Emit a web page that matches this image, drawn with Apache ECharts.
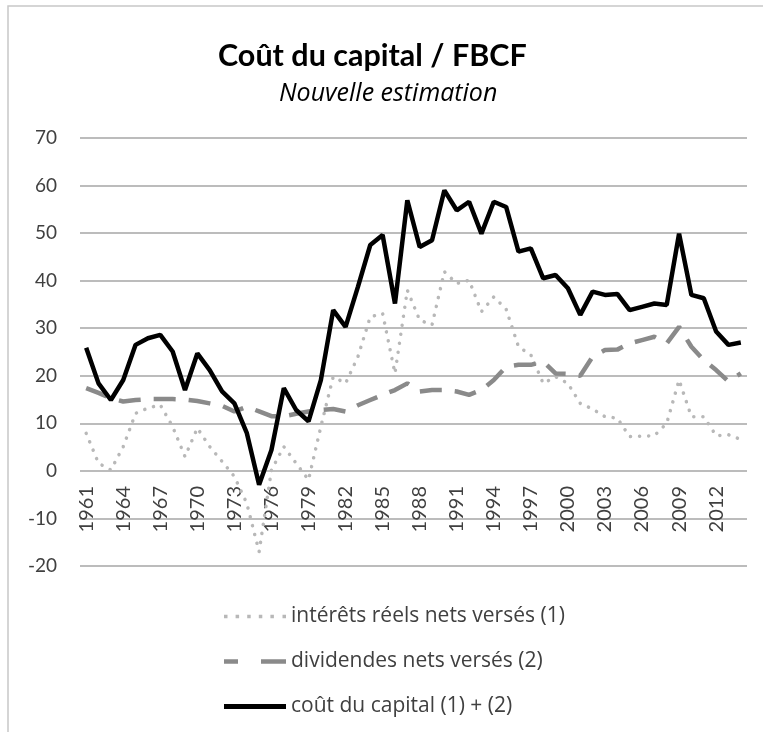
<!DOCTYPE html>
<html>
<head>
<meta charset="utf-8">
<script src="https://cdn.jsdelivr.net/npm/echarts@6/dist/echarts.min.js"></script>
<style>
  html, body { margin: 0; padding: 0; background: #fff; }
  #chart { width: 763px; height: 732px; }
</style>
</head>
<body>
<div id="chart"></div>
<script>
// années 1961 -> 2014
const years = [];
for (let y = 1961; y <= 2014; y++) years.push(String(y));

// intérêts réels nets versés (1)
const interets = [
  7.9, 1.6, 0.2, 5.1, 12.1, 13.2, 13.9, 9.3, 3.0, 9.0,
  5.1, 2.0, -1.2, -6.8, -17.0, 0.2, 5.1, 1.6, -1.9, 9.3,
  19.8, 18.4, 24.0, 32.4, 33.1, 20.5, 38.0, 31.7, 30.7, 41.9,
  39.4, 40.1, 33.5, 36.6, 34.0, 26.1, 24.4, 18.4, 19.8, 18.4,
  14.2, 13.0, 11.4, 11.1, 7.2, 7.3, 7.4, 10.0, 19.1, 11.4,
  11.4, 7.4, 7.6, 6.6
];

// dividendes nets versés (2)
const dividendes = [
  17.4, 16.4, 15.3, 14.6, 14.9, 15.1, 15.1, 15.1, 15.0, 14.7,
  14.2, 13.7, 12.5, 13.5, 12.5, 11.5, 11.5, 12.0, 12.5, 12.8,
  13.0, 12.5, 13.8, 14.9, 16.0, 17.0, 18.4, 16.7, 17.0, 17.0,
  16.7, 16.0, 17.0, 19.1, 21.9, 22.3, 22.3, 23.0, 20.5, 20.4,
  20.0, 24.0, 25.4, 25.5, 26.8, 27.5, 28.2, 26.8, 30.3, 26.1,
  23.3, 21.2, 18.8, 20.5
];

// coût du capital (1) + (2)
const cout = [
  25.9, 18.4, 14.9, 19.1, 26.5, 27.9, 28.6, 25.1, 17.0, 24.7,
  21.2, 16.7, 14.2, 8.0, -2.9, 4.4, 17.4, 12.8, 10.4, 19.1,
  33.8, 30.3, 38.7, 47.5, 49.6, 35.2, 56.9, 47.1, 48.5, 59.0,
  54.8, 56.6, 49.9, 56.6, 55.5, 46.1, 46.8, 40.5, 41.2, 38.4,
  32.8, 37.7, 37.0, 37.2, 33.8, 34.5, 35.2, 34.9, 49.9, 37.0,
  36.3, 29.3, 26.5, 27.0
];

const names = ['intérêts réels nets versés (1)', 'dividendes nets versés (2)', 'coût du capital (1) + (2)'];

// icônes de légende (pointillés, tirets, trait plein)
const iconDots = 'path://M0,0h3.5v3.5h-3.5z M11.6,0h3.5v3.5h-3.5z M23.2,0h3.5v3.5h-3.5z M34.8,0h3.5v3.5h-3.5z M46.4,0h3.5v3.5h-3.5z M58.5,0h3.5v3.5h-3.5z';
const iconDash = 'path://M0,0h14v4.5h-14z M37,0h25v4.5h-25z';
const iconLine = 'path://M0,0h62v5h-62z';

const font = 'Lato, "Open Sans", sans-serif';
const chart = echarts.init(document.getElementById('chart'));

chart.setOption({
  backgroundColor: '#fff',
  animation: false,
  title: [
    {
      text: 'Coût du capital / FBCF',
      left: 213,
      top: 36,
      textStyle: { fontFamily: font, fontSize: 30.5, fontWeight: 'bold', color: '#000' }
    },
    {
      text: 'Nouvelle estimation',
      left: 274,
      top: 76,
      textStyle: { fontFamily: '"Open Sans", sans-serif', fontSize: 25, fontStyle: 'italic', fontWeight: 'normal', color: '#000' }
    }
  ],
  graphic: [{
    type: 'rect',
    shape: { x: 8, y: 6, width: 800, height: 800 },
    style: { fill: 'none', stroke: '#c8c8c8', lineWidth: 1.5 },
    silent: true
  }],
  legend: {
    orient: 'vertical',
    left: 219,
    top: 601,
    itemWidth: 62,
    itemHeight: 5,
    itemGap: 24,
    textStyle: { fontFamily: '"Open Sans", sans-serif', fontSize: 21, lineHeight: 21, color: '#404040' },
    data: [
      { name: names[0], icon: iconDots },
      { name: names[1], icon: iconDash },
      { name: names[2], icon: iconLine }
    ]
  },
  grid: { left: 80, right: 16, top: 138, bottom: 166, containLabel: false },
  xAxis: {
    type: 'category',
    data: years,
    boundaryGap: true,
    offset: -95,
    axisLine: { show: false, onZero: false },
    axisTick: { show: false },
    axisLabel: {
      rotate: 90,
      interval: 2,
      margin: 15,
      fontFamily: font,
      fontSize: 20,
      color: '#404040'
    }
  },
  yAxis: {
    type: 'value',
    min: -20,
    max: 70,
    interval: 10,
    axisLine: { show: false },
    axisTick: { show: false },
    axisLabel: { fontFamily: font, fontSize: 19, color: '#404040', margin: 23 },
    splitLine: { lineStyle: { color: '#a6a6a6', width: 1.5 } }
  },
  series: [
    {
      name: names[0],
      type: 'line',
      data: interets,
      symbol: 'none',
      lineStyle: { color: '#b8b8b8', width: 3.5, type: [0.1, 9], cap: 'round' },
      itemStyle: { color: '#b8b8b8' }
    },
    {
      name: names[1],
      type: 'line',
      data: dividendes,
      symbol: 'none',
      lineStyle: { color: '#8a8a8a', width: 4.5, type: [22, 13] },
      itemStyle: { color: '#8a8a8a' }
    },
    {
      name: names[2],
      type: 'line',
      data: cout,
      symbol: 'none',
      lineStyle: { color: '#000', width: 4.5 },
      itemStyle: { color: '#000' }
    }
  ]
});
</script>
</body>
</html>
